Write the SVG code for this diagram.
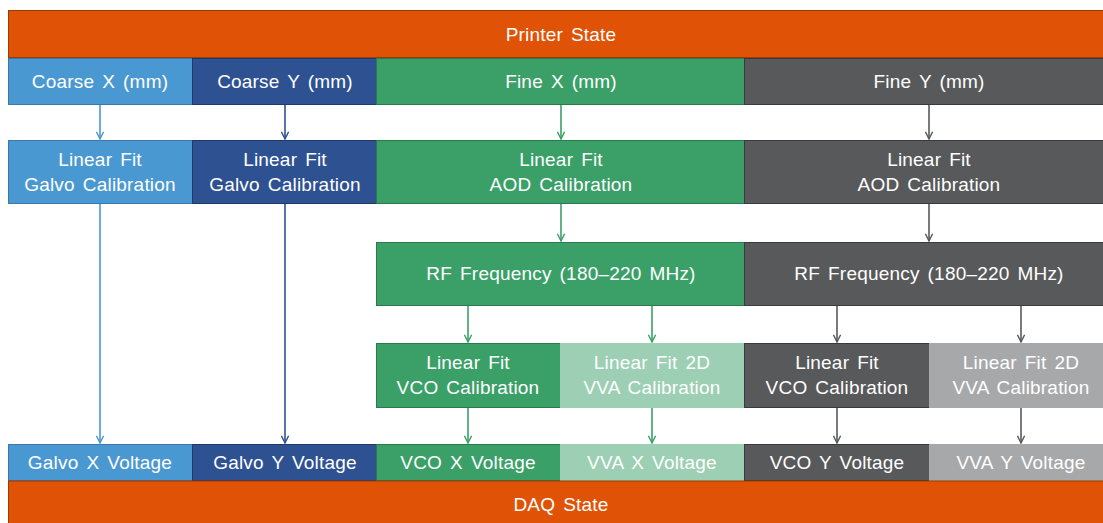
<svg xmlns="http://www.w3.org/2000/svg" width="1103" height="523" viewBox="0 0 1103 523">
<style>
text{font-family:"Liberation Sans",Arial,sans-serif;font-size:19px;letter-spacing:0.2px;word-spacing:2.5px;fill:#fff;text-anchor:middle;dominant-baseline:central}
.or{fill:#E05206;stroke:#9a3a05;stroke-width:1}
.cx{fill:#4A98D1;stroke:#3a78a8;stroke-width:1}
.cy{fill:#2E5192;stroke:#1f3a6a;stroke-width:1}
.fx{fill:#3AA068;stroke:#2a7a4e;stroke-width:1}
.fy{fill:#58595B;stroke:#3a3a3c;stroke-width:1}
.fxl{fill:#9CCFB3;stroke:#9CCFB3;stroke-width:1}
.fyl{fill:#A7A8AA;stroke:#A7A8AA;stroke-width:1}
.c{fill:none;stroke-width:1.6}
</style>
<defs>
<marker id="aCX" viewBox="0 0 10 10" refX="9" refY="5" markerWidth="9" markerHeight="9" markerUnits="userSpaceOnUse" orient="auto"><path d="M1,1 L9,5 L1,9" fill="none" stroke="#4A98D1" stroke-width="1.6"/></marker>
<marker id="aCY" viewBox="0 0 10 10" refX="9" refY="5" markerWidth="9" markerHeight="9" markerUnits="userSpaceOnUse" orient="auto"><path d="M1,1 L9,5 L1,9" fill="none" stroke="#2E5192" stroke-width="1.6"/></marker>
<marker id="aFX" viewBox="0 0 10 10" refX="9" refY="5" markerWidth="9" markerHeight="9" markerUnits="userSpaceOnUse" orient="auto"><path d="M1,1 L9,5 L1,9" fill="none" stroke="#3AA068" stroke-width="1.6"/></marker>
<marker id="aFY" viewBox="0 0 10 10" refX="9" refY="5" markerWidth="9" markerHeight="9" markerUnits="userSpaceOnUse" orient="auto"><path d="M1,1 L9,5 L1,9" fill="none" stroke="#58595B" stroke-width="1.6"/></marker>
</defs>

<g id="printer-state"><rect class="or" x="8.5" y="10.5" width="1095" height="47"/><text x="561" y="34">Printer State</text></g>

<g id="coarse-x"><rect class="cx" x="8.5" y="58.5" width="184" height="46"/><text x="100" y="81">Coarse X (mm)</text></g>
<g id="coarse-y"><rect class="cy" x="192.5" y="58.5" width="184" height="46"/><text x="285" y="81">Coarse Y (mm)</text></g>
<g id="fine-x"><rect class="fx" x="376.5" y="58.5" width="368" height="46"/><text x="561" y="81">Fine X (mm)</text></g>
<g id="fine-y"><rect class="fy" x="744.5" y="58.5" width="359" height="46"/><text x="929" y="81">Fine Y (mm)</text></g>

<g id="galvo-cal-x"><rect class="cx" x="8.5" y="140.5" width="184" height="63"/><text x="100" y="159">Linear Fit</text><text x="100" y="184">Galvo Calibration</text></g>
<g id="galvo-cal-y"><rect class="cy" x="192.5" y="140.5" width="184" height="63"/><text x="285" y="159">Linear Fit</text><text x="285" y="184">Galvo Calibration</text></g>
<g id="aod-cal-x"><rect class="fx" x="376.5" y="140.5" width="368" height="63"/><text x="561" y="159">Linear Fit</text><text x="561" y="184">AOD Calibration</text></g>
<g id="aod-cal-y"><rect class="fy" x="744.5" y="140.5" width="359" height="63"/><text x="929" y="159">Linear Fit</text><text x="929" y="184">AOD Calibration</text></g>

<g id="rf-x"><rect class="fx" x="376.5" y="242.5" width="368" height="63"/><text x="561" y="273">RF Frequency (180–220 MHz)</text></g>
<g id="rf-y"><rect class="fy" x="744.5" y="242.5" width="359" height="63"/><text x="929" y="273">RF Frequency (180–220 MHz)</text></g>

<g id="vco-cal-x"><rect class="fx" x="376.5" y="343.5" width="184" height="64"/><text x="468" y="362">Linear Fit</text><text x="468" y="387">VCO Calibration</text></g>
<g id="vva-cal-x"><rect class="fxl" x="560.5" y="343.5" width="184" height="64"/><text x="652" y="362">Linear Fit 2D</text><text x="652" y="387">VVA Calibration</text></g>
<g id="vco-cal-y"><rect class="fy" x="744.5" y="343.5" width="185" height="64"/><text x="837" y="362">Linear Fit</text><text x="837" y="387">VCO Calibration</text></g>
<g id="vva-cal-y"><rect class="fyl" x="929.5" y="343.5" width="174" height="64"/><text x="1021" y="362">Linear Fit 2D</text><text x="1021" y="387">VVA Calibration</text></g>

<g id="galvo-x-v"><rect class="cx" x="8.5" y="444.5" width="184" height="36"/><text x="100" y="462">Galvo X Voltage</text></g>
<g id="galvo-y-v"><rect class="cy" x="192.5" y="444.5" width="184" height="36"/><text x="285" y="462">Galvo Y Voltage</text></g>
<g id="vco-x-v"><rect class="fx" x="376.5" y="444.5" width="184" height="36"/><text x="468" y="462">VCO X Voltage</text></g>
<g id="vva-x-v"><rect class="fxl" x="560.5" y="444.5" width="184" height="36"/><text x="652" y="462">VVA X Voltage</text></g>
<g id="vco-y-v"><rect class="fy" x="744.5" y="444.5" width="185" height="36"/><text x="837" y="462">VCO Y Voltage</text></g>
<g id="vva-y-v"><rect class="fyl" x="929.5" y="444.5" width="174" height="36"/><text x="1021" y="462">VVA Y Voltage</text></g>

<g id="daq-state"><rect class="or" x="8.5" y="481" width="1095" height="43"/><text x="561" y="504">DAQ State</text></g>

<g id="connectors">
<line class="c" stroke="#4A98D1" x1="100" y1="105" x2="100" y2="139" marker-end="url(#aCX)"/>
<line class="c" stroke="#2E5192" x1="285" y1="105" x2="285" y2="139" marker-end="url(#aCY)"/>
<line class="c" stroke="#3AA068" x1="561" y1="105" x2="561" y2="139" marker-end="url(#aFX)"/>
<line class="c" stroke="#58595B" x1="929" y1="105" x2="929" y2="139" marker-end="url(#aFY)"/>
<line class="c" stroke="#4A98D1" x1="100" y1="204" x2="100" y2="443" marker-end="url(#aCX)"/>
<line class="c" stroke="#2E5192" x1="285" y1="204" x2="285" y2="443" marker-end="url(#aCY)"/>
<line class="c" stroke="#3AA068" x1="561" y1="204" x2="561" y2="241" marker-end="url(#aFX)"/>
<line class="c" stroke="#58595B" x1="929" y1="204" x2="929" y2="241" marker-end="url(#aFY)"/>
<line class="c" stroke="#3AA068" x1="468" y1="306" x2="468" y2="342" marker-end="url(#aFX)"/>
<line class="c" stroke="#3AA068" x1="652" y1="306" x2="652" y2="342" marker-end="url(#aFX)"/>
<line class="c" stroke="#58595B" x1="837" y1="306" x2="837" y2="342" marker-end="url(#aFY)"/>
<line class="c" stroke="#58595B" x1="1021" y1="306" x2="1021" y2="342" marker-end="url(#aFY)"/>
<line class="c" stroke="#3AA068" x1="468" y1="408" x2="468" y2="443" marker-end="url(#aFX)"/>
<line class="c" stroke="#3AA068" x1="652" y1="408" x2="652" y2="443" marker-end="url(#aFX)"/>
<line class="c" stroke="#58595B" x1="837" y1="408" x2="837" y2="443" marker-end="url(#aFY)"/>
<line class="c" stroke="#58595B" x1="1021" y1="408" x2="1021" y2="443" marker-end="url(#aFY)"/>
</g>
</svg>
